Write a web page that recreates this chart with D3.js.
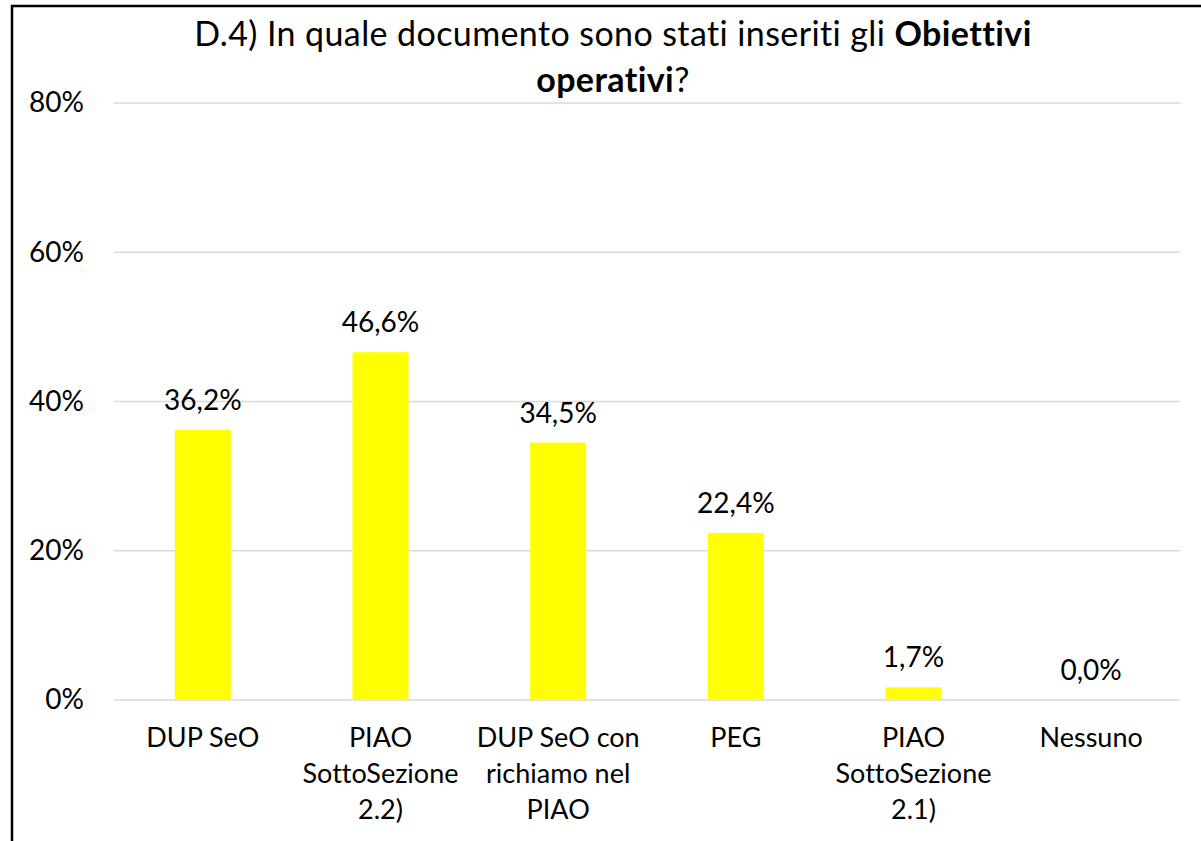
<!DOCTYPE html>
<html>
<head>
<meta charset="utf-8">
<script src="https://cdn.jsdelivr.net/npm/d3@7"></script>
<style>
  html, body { margin: 0; padding: 0; background: #fff; overflow: hidden; }
  svg { display: block; font-family: Lato, "Open Sans", sans-serif; font-variant-ligatures: none; }
</style>
</head>
<body>
<svg id="chart" width="1201" height="841"></svg>
<script>
// chart data
const categories = [
  "DUP SeO",
  "PIAO\nSottoSezione\n2.2)",
  "DUP SeO con\nrichiamo nel\nPIAO",
  "PEG",
  "PIAO\nSottoSezione\n2.1)",
  "Nessuno"
];
const values = [36.2, 46.6, 34.5, 22.4, 1.7, 0.0];
const yTicks = [0, 20, 40, 60, 80];

// layout
const margin = { top: 103, right: 21, bottom: 141, left: 114 };
const width = 1201, height = 841;
const plotW = width - margin.left - margin.right;
const plotH = height - margin.top - margin.bottom;

const svg = d3.select("#chart");

// outer frame (only top and left edges are visible in the picture)
svg.append("rect")
  .attr("x", 12).attr("y", 6)
  .attr("width", 1300).attr("height", 1000)
  .attr("fill", "none")
  .attr("stroke", "#000")
  .attr("stroke-width", 2.5);

// title, two lines, with bold parts
const title = svg.append("text")
  .attr("x", 613)
  .attr("text-anchor", "middle")
  .attr("font-size", 34)
  .attr("letter-spacing", 0.4)
  .attr("fill", "#000");
const t1 = title.append("tspan").attr("x", 613).attr("y", 46);
t1.append("tspan").text("D.4) In quale documento sono stati inseriti gli ");
t1.append("tspan").attr("font-weight", "bold").text("Obiettivi");
const t2 = title.append("tspan").attr("x", 613).attr("y", 92);
t2.append("tspan").attr("font-weight", "bold").text("operativi");
t2.append("tspan").text("?");

const g = svg.append("g").attr("transform", `translate(${margin.left},${margin.top})`);

// scales
const x = d3.scaleBand()
  .domain(categories)
  .range([0, plotW])
  .paddingInner(0.685)
  .paddingOuter(0.685 / 2);

const y = d3.scaleLinear().domain([0, 80]).range([plotH, 0]);

// gridlines
g.append("g")
  .selectAll("line")
  .data(yTicks)
  .join("line")
  .attr("x1", 0).attr("x2", plotW)
  .attr("y1", d => y(d)).attr("y2", d => y(d))
  .attr("stroke", "#d9d9d9")
  .attr("stroke-width", 1.5);

// y axis labels
const yAxis = g.append("g")
  .call(d3.axisLeft(y).tickValues(yTicks).tickFormat(d => d + "%").tickSize(0).tickPadding(30));
yAxis.select(".domain").remove();
yAxis.selectAll("text")
  .attr("font-size", 28)
  .attr("font-family", "Lato, sans-serif")
  .attr("fill", "#000");

// bars
g.selectAll(".bar")
  .data(values)
  .join("rect")
  .attr("class", "bar")
  .attr("x", (d, i) => x(categories[i]))
  .attr("width", x.bandwidth())
  .attr("y", d => y(d))
  .attr("height", d => plotH - y(d))
  .attr("fill", "#ffff00");

// value labels
g.selectAll(".val")
  .data(values)
  .join("text")
  .attr("class", "val")
  .attr("x", (d, i) => x(categories[i]) + x.bandwidth() / 2)
  .attr("y", d => y(d) - 20)
  .attr("text-anchor", "middle")
  .attr("font-size", 28)
  .attr("fill", "#000")
  .text(d => d.toFixed(1).replace(".", ",") + "%");

// category labels, wrapped on purpose
const xl = g.append("g").attr("transform", `translate(0,${plotH})`);
categories.forEach(c => {
  const t = xl.append("text")
    .attr("text-anchor", "middle")
    .attr("font-size", 27)
    .attr("fill", "#000");
  c.split("\n").forEach((line, j) => {
    t.append("tspan")
      .attr("x", x(c) + x.bandwidth() / 2)
      .attr("y", 47 + j * 36)
      .text(line);
  });
});
</script>
</body>
</html>
